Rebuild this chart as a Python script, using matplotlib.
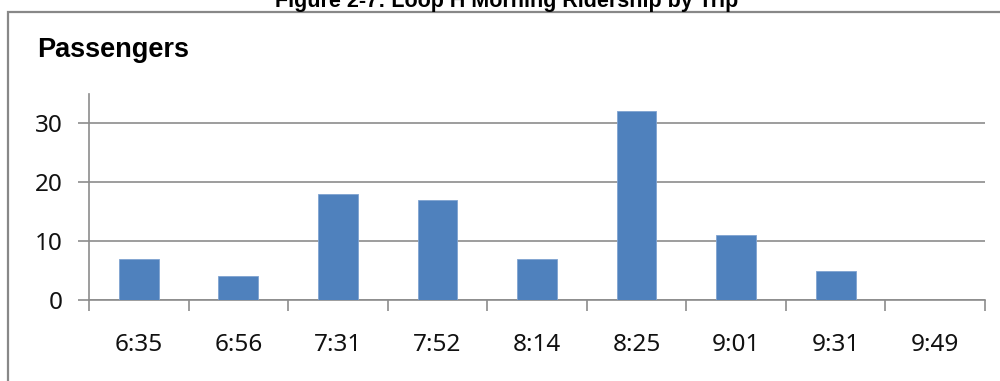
import matplotlib
matplotlib.use("Agg")
import matplotlib.pyplot as plt
import numpy as np

trips = ["6:35", "6:56", "7:31", "7:52", "8:14", "8:25", "9:01", "9:31", "9:49"]
passengers = [7, 4, 18, 17, 7, 32, 11, 5, 0]
y_ticks = [0, 10, 20, 30]

fig = plt.figure(figsize=(10, 3.81), dpi=100)
W, H = 1000, 381

# Figure caption, partially above the page edge
fig.text(0.507, 1 - 6.5 / H, "Figure 2-7: Loop H Morning Ridership by Trip",
         ha="center", va="baseline", fontsize=15.5, fontweight="bold",
         family="Liberation Sans", color="black")

# Chart frame
frame = plt.Rectangle((8 / W, -0.1), 1.2, 1 - 11.5 / H + 0.1, transform=fig.transFigure,
                      fill=False, edgecolor="#888888", linewidth=1.6)
fig.add_artist(frame)

fig.text(37 / W, 1 - 50 / H, "Passengers", ha="left", va="center",
         fontsize=19.5, fontweight="bold", family="Liberation Sans")

ax = fig.add_axes([89 / W, 1 - 300 / H, (985 - 89) / W, (300 - 93.5) / H])
x = np.arange(len(trips))
ax.bar(x, passengers, width=0.4, color="#4F81BD", edgecolor="#7FA3D1", linewidth=0.6, zorder=3)

ax.set_xlim(-0.5, len(trips) - 0.5)
ax.set_ylim(0, 35)
ax.set_yticks(y_ticks)
ax.set_yticklabels([str(v) for v in y_ticks], fontsize=17.5, family="Noto Sans", color="#111111")
ax.set_xticks(x)
ax.set_xticklabels(trips, fontsize=17.5, family="Noto Sans", color="#111111")
ax.tick_params(axis="x", length=0, pad=24)
ax.set_xticks(np.arange(len(trips) + 1) - 0.5, minor=True)
ax.tick_params(axis="x", which="minor", length=8, color="#8c8c8c", width=1.2)
ax.tick_params(axis="y", length=8, color="#8c8c8c", width=1.2, pad=11)

ax.grid(axis="y", color="#8c8c8c", linewidth=1.2, zorder=0)
for s in ["top", "right"]:
    ax.spines[s].set_visible(False)
for s in ["left", "bottom"]:
    ax.spines[s].set_color("#8c8c8c")
    ax.spines[s].set_linewidth(1.2)

fig.savefig("out.png", dpi=100)
